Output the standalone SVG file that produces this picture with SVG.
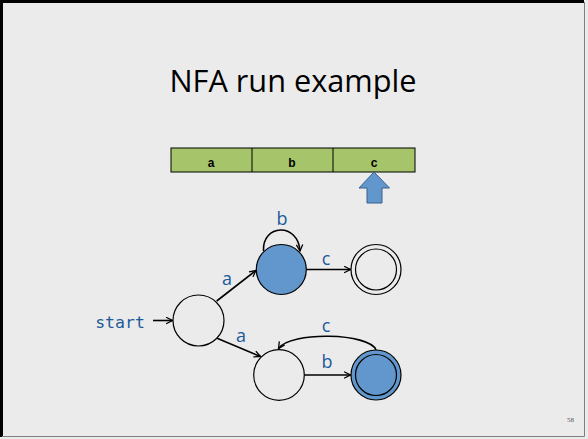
<svg xmlns="http://www.w3.org/2000/svg" width="588" height="439" viewBox="0 0 588 439">
<style>
.st{fill:#ebebeb;stroke:#000;stroke-width:1.2}
.fi{fill:#6197cc;stroke:#000;stroke-width:1.2}
.in{fill:none;stroke:#000;stroke-width:1.2}
.ed{fill:none;stroke:#000;stroke-width:1.6;marker-end:url(#ah)}
.lb{font-family:"Open Sans","Liberation Sans",sans-serif;font-size:18px;fill:#1d5a9a;text-anchor:middle}
.tp{font-family:"Liberation Sans",sans-serif;font-size:12px;font-weight:bold;fill:#000;text-anchor:middle}
</style>
<defs>
<marker id="ah" viewBox="0 0 10 10" refX="9" refY="5" markerWidth="8" markerHeight="8" markerUnits="userSpaceOnUse" orient="auto">
<path d="M1,1 L9,5 L1,9" fill="none" stroke="#000" stroke-width="1.6"/>
</marker>
</defs>
<rect x="0" y="0" width="588" height="439" fill="#ebebeb"/>
<path d="M1.5,437 V1.5 H584" fill="none" stroke="#000" stroke-width="3"/>
<path d="M584.5,2 V436.5 H2" fill="none" stroke="#7f7f7f" stroke-width="1"/>
<text x="293" y="92" font-family="'Open Sans','Liberation Sans',sans-serif" font-size="31" fill="#000" text-anchor="middle" textLength="247" lengthAdjust="spacingAndGlyphs">NFA run example</text>
<g id="tape">
<rect x="171" y="148" width="244" height="24" fill="#a6c46a" stroke="#000" stroke-width="1"/>
<line x1="252" y1="148" x2="252" y2="172" stroke="#000" stroke-width="1"/>
<line x1="333" y1="148" x2="333" y2="172" stroke="#000" stroke-width="1"/>
<text class="tp" x="211" y="167">a</text>
<text class="tp" x="292" y="167">b</text>
<text class="tp" x="374" y="167">c</text>
</g>
<g id="pointer">
<path d="M374,172 L389.5,188 L382,188 L382,203 L367,203 L367,188 L359,188 Z" fill="#6197cc" stroke="#3a5f8c" stroke-width="1"/>
</g>
<g id="connectors">
<line class="ed" x1="153" y1="320.5" x2="172.5" y2="320.5"/>
<line class="ed" x1="216.7" y1="301" x2="256" y2="270.5"/>
<line class="ed" x1="216.5" y1="338" x2="260.5" y2="356.5"/>
<path class="ed" d="M263.5,251 C262,224 298,222 300,251"/>
<line class="ed" x1="306" y1="269.5" x2="350.5" y2="269.5"/>
<path class="ed" d="M376,350 C370,333 290,331 278.5,348.5"/>
<line class="ed" x1="304" y1="375" x2="350.5" y2="375"/>
</g>
<g id="labels">
<text x="120" y="328" font-family="'DejaVu Sans Mono','Liberation Mono',monospace" font-size="16.5" fill="#1d5a9a" text-anchor="middle">start</text>
<text class="lb" x="227" y="285">a</text>
<text class="lb" x="241" y="342">a</text>
<text class="lb" x="282" y="225">b</text>
<text class="lb" x="326" y="265">c</text>
<text class="lb" x="326" y="332">c</text>
<text class="lb" x="327" y="368">b</text>
</g>
<g id="q0"><circle class="st" cx="198.5" cy="320.5" r="25.5"/></g>
<g id="q1"><circle class="fi" cx="281.3" cy="269.5" r="25"/></g>
<g id="q2"><circle class="st" cx="376" cy="269.5" r="25"/><circle class="in" cx="376" cy="269.5" r="20.5"/></g>
<g id="q3"><circle class="st" cx="279" cy="375" r="25.3"/></g>
<g id="q4"><circle class="fi" cx="376" cy="375" r="25"/><circle class="in" cx="376" cy="375" r="20.5"/></g>
<text x="574" y="422" font-family="'Liberation Serif',serif" font-size="7" fill="#555" text-anchor="end">58</text>
</svg>
